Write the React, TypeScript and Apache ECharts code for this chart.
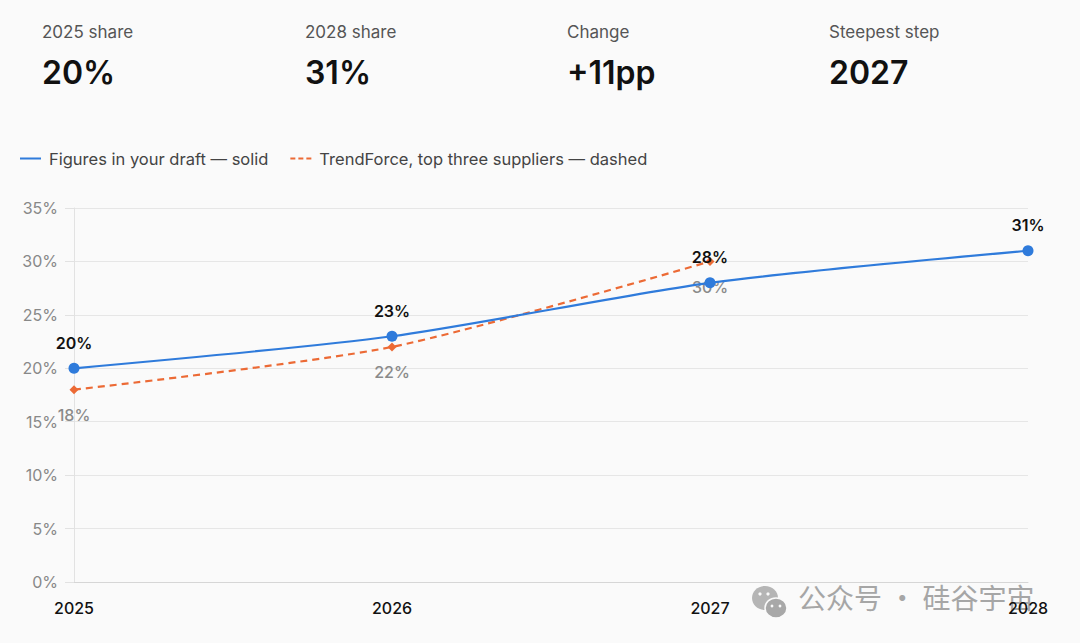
import React, { useEffect, useRef } from "react";
import * as echarts from "echarts";

const years = ["2025", "2026", "2027", "2028"];
const draftShare = [20, 23, 28, 31];
const trendForceShare: (number | null)[] = [18, 22, 30, null];
const yTicks = { min: 0, max: 35, interval: 5 };
const statLabels = ["2025 share", "2028 share", "Change", "Steepest step"];
const statValues = ["20%", "31%", "+11pp", "2027"];
const seriesNames = ["Figures in your draft — solid", "TrendForce, top three suppliers — dashed"];

const FONT = "Inter, 'Noto Sans', sans-serif";

export default function App() {
  const ref = useRef<HTMLDivElement>(null);
  useEffect(() => {
    document.body.style.margin = "0";
    const chart = echarts.init(ref.current!, undefined, { renderer: "svg" });
    const statX = [42, 305, 567, 829];
    const graphics: any[] = [];
    statLabels.forEach((l, i) => {
      graphics.push({
        type: "text",
        left: statX[i],
        top: 23,
        style: { text: l, fontSize: 17, fill: "#555", fontFamily: FONT },
      });
      graphics.push({
        type: "text",
        left: statX[i],
        top: 56,
        style: { text: statValues[i], fontSize: 32, fontWeight: 600, fill: "#111", fontFamily: FONT },
      });
    });
    // watermark
    graphics.push({
      type: "group",
      left: 752,
      top: 586,
      children: [
        { type: "ellipse", shape: { cx: 14, cy: 13, rx: 13, ry: 12 }, style: { fill: "#b5b5b5" } },
        { type: "ellipse", shape: { cx: 25, cy: 23, rx: 11, ry: 10 }, style: { fill: "#a8a8a8", stroke: "#fafafa", lineWidth: 1.5 } },
        { type: "circle", shape: { cx: 9, cy: 9, r: 1.6 }, style: { fill: "#fafafa" } },
        { type: "circle", shape: { cx: 17, cy: 9, r: 1.6 }, style: { fill: "#fafafa" } },
        { type: "circle", shape: { cx: 21, cy: 21, r: 1.4 }, style: { fill: "#fafafa" } },
        { type: "circle", shape: { cx: 29, cy: 21, r: 1.4 }, style: { fill: "#fafafa" } },
      ],
    });
    graphics.push({
      type: "text",
      left: 798,
      top: 583,
      style: { text: "公众号 · 硅谷宇宙", fontSize: 28, fill: "#a6a6a6", fontFamily: "'Noto Sans CJK SC', sans-serif" },
    });

    chart.setOption({
      animation: false,
      backgroundColor: "#fafafa",
      graphic: graphics,
      legend: {
        left: 20,
        top: 150,
        padding: 0,
        itemGap: 22,
        itemWidth: 21,
        itemHeight: 3,
        textStyle: { fontSize: 16.5, color: "#444", fontFamily: FONT, padding: [0, 0, 0, 3] },
        data: [
          { name: seriesNames[0], icon: "path://M0,0h21v2h-21z", itemStyle: { color: "#2f7bdb" } },
          { name: seriesNames[1], icon: "path://M0,0h5v2h-5zM8,0h5v2h-5zM16,0h5v2h-5z", itemStyle: { color: "#ec6a35" } },
        ],
      },
      grid: { left: 74, right: 52, top: 208, bottom: 61, containLabel: false },
      xAxis: {
        type: "category",
        data: years,
        boundaryGap: false,
        axisLine: { lineStyle: { color: "#d6d6d6" } },
        axisTick: { show: false },
        axisLabel: { fontSize: 16, color: "#111", fontFamily: FONT, margin: 18, fontWeight: 500 },
      },
      yAxis: {
        type: "value",
        min: yTicks.min,
        max: yTicks.max,
        interval: yTicks.interval,
        axisLine: { show: true, lineStyle: { color: "#e2e2e2" } },
        axisTick: { show: true, length: 9, lineStyle: { color: "#e2e2e2" } },
        splitLine: { lineStyle: { color: "#e6e6e6" } },
        axisLabel: { formatter: "{value}%", fontSize: 16, color: "#888", fontFamily: FONT, margin: 16 },
      },
      series: [
        {
          name: seriesNames[0],
          type: "line",
          data: draftShare,
          smooth: 0.25,
          symbol: "circle",
          symbolSize: 11,
          lineStyle: { color: "#2f7bdb", width: 2.2 },
          itemStyle: { color: "#2f7bdb" },
          label: {
            show: true,
            position: "top",
            distance: 12,
            formatter: "{c}%",
            fontSize: 16,
            fontWeight: 600,
            color: "#111",
            fontFamily: FONT,
          },
          z: 3,
        },
        {
          name: seriesNames[1],
          type: "line",
          data: trendForceShare,
          smooth: 0.25,
          symbol: "diamond",
          symbolSize: 9,
          lineStyle: { color: "#ec6a35", width: 2.2, type: [7, 5] },
          itemStyle: { color: "#ec6a35" },
          label: {
            show: true,
            position: "bottom",
            distance: 13,
            formatter: "{c}%",
            fontSize: 16,
            fontWeight: 500,
            color: "#8a8a8a",
            fontFamily: FONT,
          },
          z: 2,
        },
      ],
    });
    return () => chart.dispose();
  }, []);
  return <div ref={ref} style={{ width: 1080, height: 643 }} />;
}
